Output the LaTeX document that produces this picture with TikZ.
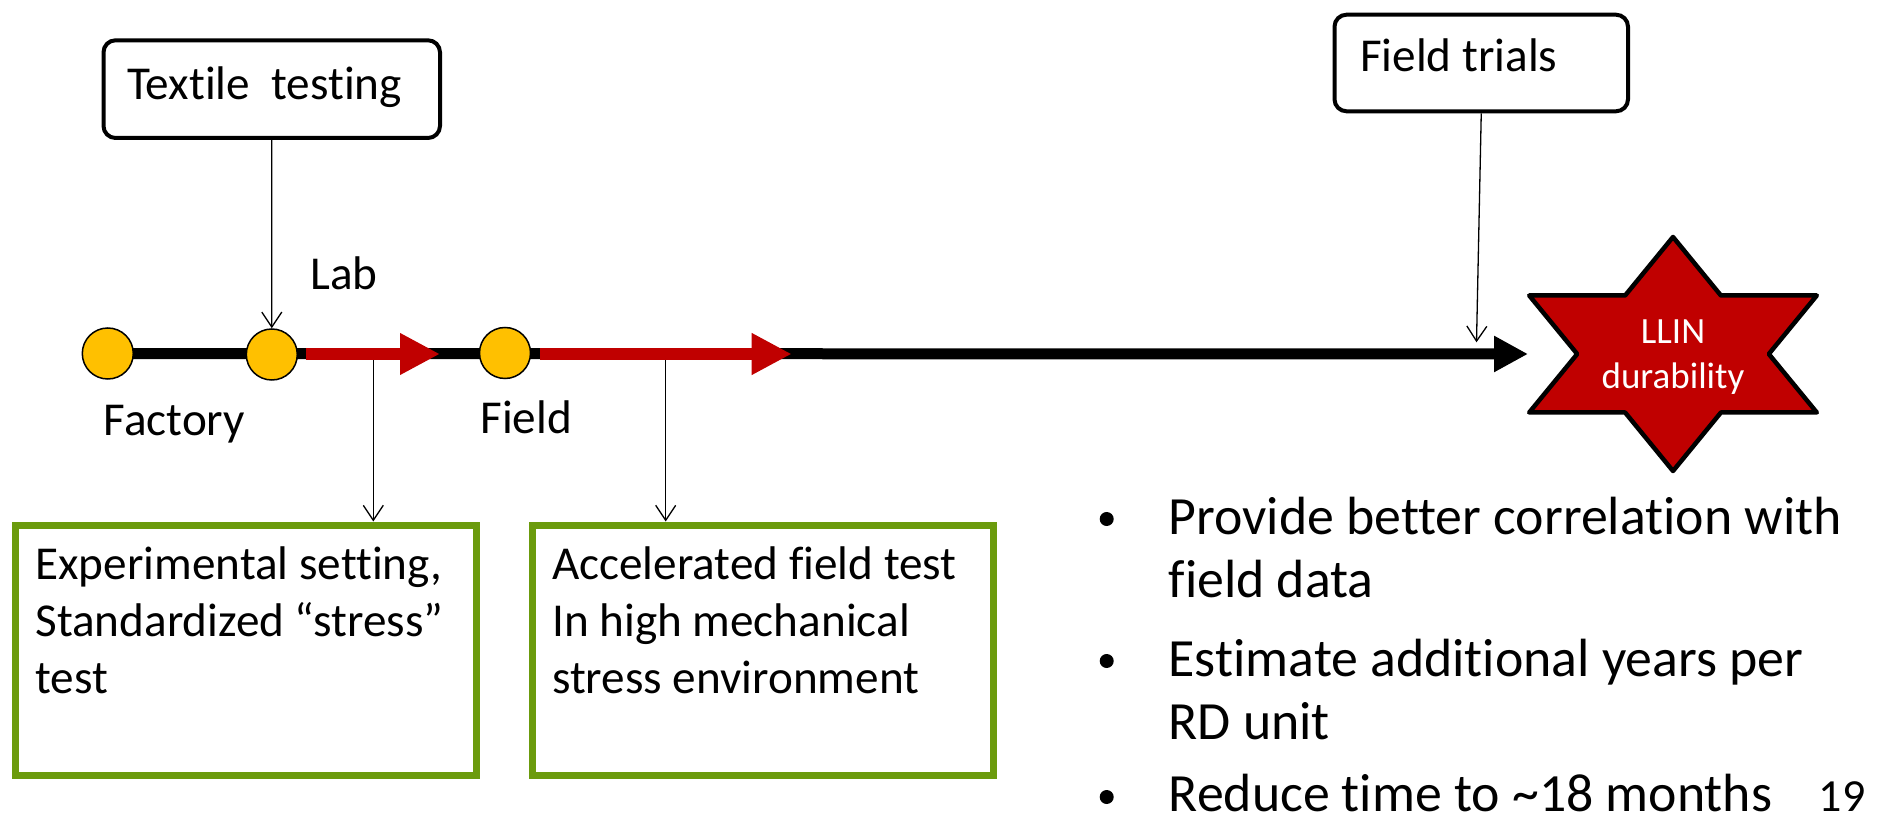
\documentclass[tikz,border=0pt]{standalone}
\usepackage{fontspec}
\setmainfont{Carlito}[Ligatures={NoCommon}]
\usetikzlibrary{arrows.meta}
\definecolor{darkred}{HTML}{C00000}
\definecolor{gold}{HTML}{FFC000}
\definecolor{leaf}{RGB}{107,155,13}

\begin{document}
\begin{tikzpicture}[x=0.5pt,y=-0.5pt,
  lbl/.style={font=\fontsize{23.6pt}{28.5pt}\selectfont, inner sep=0pt, anchor=base west},
  bul/.style={font=\fontsize{26.9pt}{32pt}\selectfont, inner sep=0pt, anchor=base west},
  stage/.style={circle, draw=black, line width=0.75pt, fill=gold, minimum size=25.5pt, inner sep=0pt},
  callout/.style={draw=black, line width=2pt, rounded corners=6pt, inner sep=0pt},
  testbox/.style={draw=leaf, line width=3.5pt, inner sep=0pt},
  pointer/.style={line width=0.65pt, -{Straight Barb[length=7.5pt,width=10pt]}},
  timeline/.style={line width=5.5pt, -{Triangle[length=17pt,width=17pt]}},
  phase/.style={darkred, line width=6pt, -{Triangle[length=20pt,width=19.5pt]}},
  dot/.style={circle, fill=black, minimum size=7pt, inner sep=0pt}
]
\useasboundingbox (0,0) rectangle (1885,823);

% stage positions on the timeline
\coordinate (p1) at (107.8,353.5);
\coordinate (p2) at (271.8,354.5);
\coordinate (p3) at (505,353);
\coordinate (starwest) at (1528,354);

% main timeline
\draw[timeline] (p1) -- (starwest);

% accelerated phases
\coordinate (r1a) at (306,354);
\coordinate (r1b) at (440,354);
\coordinate (r2a) at (540,354);
\coordinate (r2b) at (791.7,354);

% test boxes
\node[testbox, minimum width=230.7pt, minimum height=125.25pt] (setting) at (246,650.25) {};
\node[testbox, minimum width=230.85pt, minimum height=125.25pt] (accel) at (762.85,650.25) {};

\coordinate (q1) at (373.3,354);
\coordinate (q2) at (665.7,354);
\draw[pointer] (q1) -- (q1 |- setting.north);
\draw[pointer] (q2) -- (q2 |- accel.north);

\draw[phase] (r1a) -- (r1b);
\draw[phase] (r2a) -- (r2b);

% stages
\node[stage] (c1) at (p1) {};
\node[stage] (c2) at (p2) {};
\node[stage] (c3) at (p3) {};

\node[lbl] (factory) at (103.3,436) {Factory};
\node[lbl] (lab) at (310,290) {Lab};
\node[lbl] (field) at (480,433.3) {Field};

% callouts above the timeline
\node[callout, minimum width=168.25pt, minimum height=48.85pt] (textile) at (271.75,89.15) {};
\node[lbl] (textiletxt) at (126.7,100) {Textile\ \ testing};
\draw[pointer] (textile.south) -- (c2.north);

\node[callout, minimum width=146.75pt, minimum height=48.3pt] (trials) at (1481.25,63) {};
\node[lbl] (trialstxt) at (1359.7,71.7) {Field trials};
\coordinate (ftend) at (1476.5,342.3);
\draw[pointer] (trials.south) -- (ftend);

% goal star
\filldraw[fill=darkred, draw=black, line width=2.25pt, line join=round]
  (1673,237) -- (1720.9,295.5) -- (1816.8,295.5) -- (1768.8,354) --
  (1816.8,412.5) -- (1720.9,412.5) -- (1673,471) -- (1625.1,412.5) --
  (1529.2,412.5) -- (1577.2,354) -- (1529.2,295.5) -- (1625.1,295.5) -- cycle;
\node[font=\fontsize{18.5pt}{22.5pt}\selectfont, text=white, align=center, inner sep=0pt] (llin) at (1673,357) {LLIN\\durability};

% box texts
\node[lbl] (s1) at (35,579.3) {Experimental setting,};
\node[lbl] (s2) at (35,636) {Standardized “stress”};
\node[lbl] (s3) at (35,693.3) {test};
\node[lbl] (a1) at (551.7,579.3) {Accelerated field test};
\node[lbl] (a2) at (551.7,636) {In high mechanical};
\node[lbl] (a3) at (551.7,693.3) {stress environment};

% goals list
\node[dot] (d1) at (1106.7,519) {};
\node[dot] (d2) at (1106.7,661) {};
\node[dot] (d3) at (1106.7,797) {};
\node[bul] (g1) at (1168.3,534) {Provide better correlation with};
\node[bul] (g2) at (1168.3,597) {field data};
\node[bul] (g3) at (1168.3,676) {Estimate additional years per};
\node[bul] (g4) at (1168.3,739) {RD unit};
\node[bul] (g5) at (1168.3,811) {Reduce time to \textasciitilde18 months};

\node[font=\fontsize{23pt}{28pt}\selectfont, inner sep=0pt, anchor=base west] (pageno) at (1818.3,811) {19};
\end{tikzpicture}
\end{document}
